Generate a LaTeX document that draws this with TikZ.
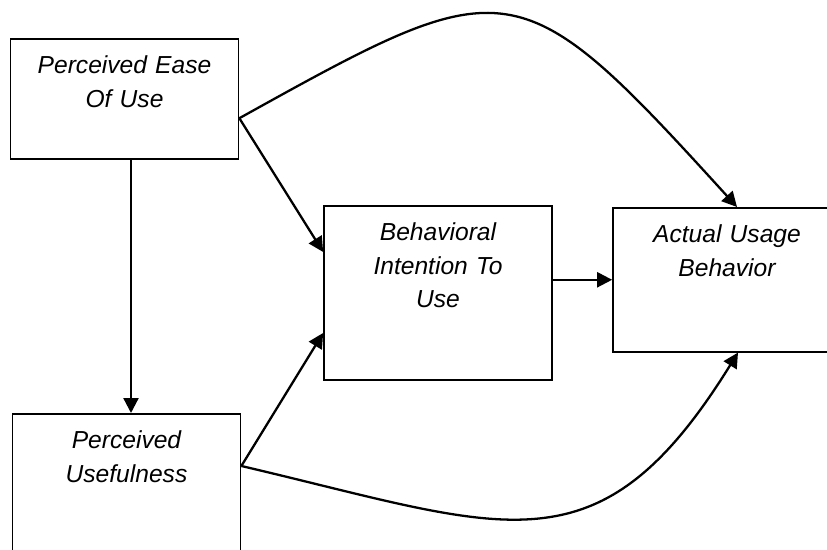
\documentclass[tikz,border=0pt]{standalone}
\usepackage{fontspec}
\setmainfont{Liberation Sans}
\usetikzlibrary{arrows.meta,calc}

\begin{document}
\begin{tikzpicture}[
    x=0.02cm,
    y=0.02cm,
    box/.style={draw, line width=1pt, anchor=north, text width=4.56cm,
      inner xsep=0pt, inner ysep=0.34cm, align=center,
      font=\fontsize{14}{19}\selectfont\itshape},
    link/.style={line width=1.3pt, -{Triangle[length=3mm,width=3mm]}}]

    \clip (0,0) rectangle (827,-550);

    % Constructs
    \node[box, text depth=1.36cm] (peou) at (124.5,-38) {Perceived Ease\\Of Use};
    \node[box, text depth=3cm] (pu) at (126.5,-413) {Perceived\\Usefulness};
    \node[box, text depth=2.44cm] (bi) at (438,-205) {Behavioral\\Intention To\\Use};
    \node[box, text depth=1.84cm] (aub) at (727,-207) {Actual Usage\\Behavior};

    % Ports on the box edges
    \coordinate (peouout) at ($(peou.north east)!0.66!(peou.south east)$);
    \coordinate (puout) at ([yshift=-1.06cm]pu.north east);
    \coordinate (biin1) at ([yshift=-0.94cm]bi.north west);
    \coordinate (biin2) at ([yshift=-2.56cm]bi.north west);

    % Straight links
    \draw[link] ([xshift=0.13cm]peou.south) -- ([xshift=0.13cm]peou.south |- pu.north);
    \draw[link] (peouout) -- (biin1);
    \draw[link] (puout) -- (biin2);
    \draw[link] (bi.east |- aub.west) -- (aub.west);

    % Curved links
    \draw[link] (peouout) .. controls +(270,150) and +(-220,242) .. ([xshift=0.2cm]aub.north);
    \draw[link] (puout) .. controls +(265,-62) and +(-140,-226) .. ([xshift=0.22cm]aub.south);
\end{tikzpicture}
\end{document}
